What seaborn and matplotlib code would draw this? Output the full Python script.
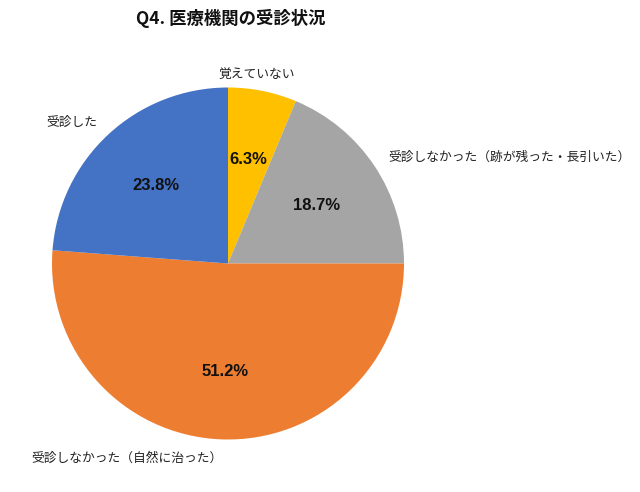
import matplotlib
matplotlib.use("Agg")
import matplotlib.pyplot as plt
import seaborn as sns

# --- data ---
categories = ["覚えていない", "受診しなかった（跡が残った・長引いた）",
              "受診しなかった（自然に治った）", "受診した"]
shares = [6.3, 18.7, 51.2, 23.8]
colors = ["#FFC000", "#A5A5A5", "#ED7D31", "#4472C4"]

sns.set_theme(style="white")
plt.rcParams['font.family'] = ['Noto Sans CJK JP', 'DejaVu Sans']

fig = plt.figure(figsize=(6.4, 4.92), dpi=100)
W, H = 640, 492
cx, cy, r = 228, 263.5, 176
ax = fig.add_axes([(cx - r) / W, (H - cy - r) / H, 2 * r / W, 2 * r / H])

wedges, _ = ax.pie(shares, colors=colors, startangle=90, counterclock=False,
                   radius=1.0, wedgeprops=dict(linewidth=0))
ax.set_xlim(-1, 1)
ax.set_ylim(-1, 1)
ax.set_aspect("equal")
ax.axis("off")


def px(x, y):
    return (x - cx) / r, (cy - y) / r


# percentage labels inside slices
pct_pos = [(248, 160), (317, 205), (225, 371), (156, 186)]
for v, (x, y) in zip(shares, pct_pos):
    ax.text(*px(x, y), f"{v:.1f}%", ha="center", va="center",
            fontsize=12, fontweight="bold", color="#111111",
            family=['Liberation Sans', 'Noto Sans CJK JP'])

# category labels outside
cat_pos = [(218, 74), (388, 157), (31, 458), (46, 122)]
for name, (x, y) in zip(categories, cat_pos):
    ax.text(*px(x, y), name, ha="left", va="center", fontsize=9.2, color="#222222",
            clip_on=False)

fig.text(231 / W, 1 - 18 / H, "Q4. 医療機関の受診状況", ha="center", va="center",
         fontsize=12.5, fontweight="bold", color="#111111")

fig.savefig("out.png", dpi=100)
